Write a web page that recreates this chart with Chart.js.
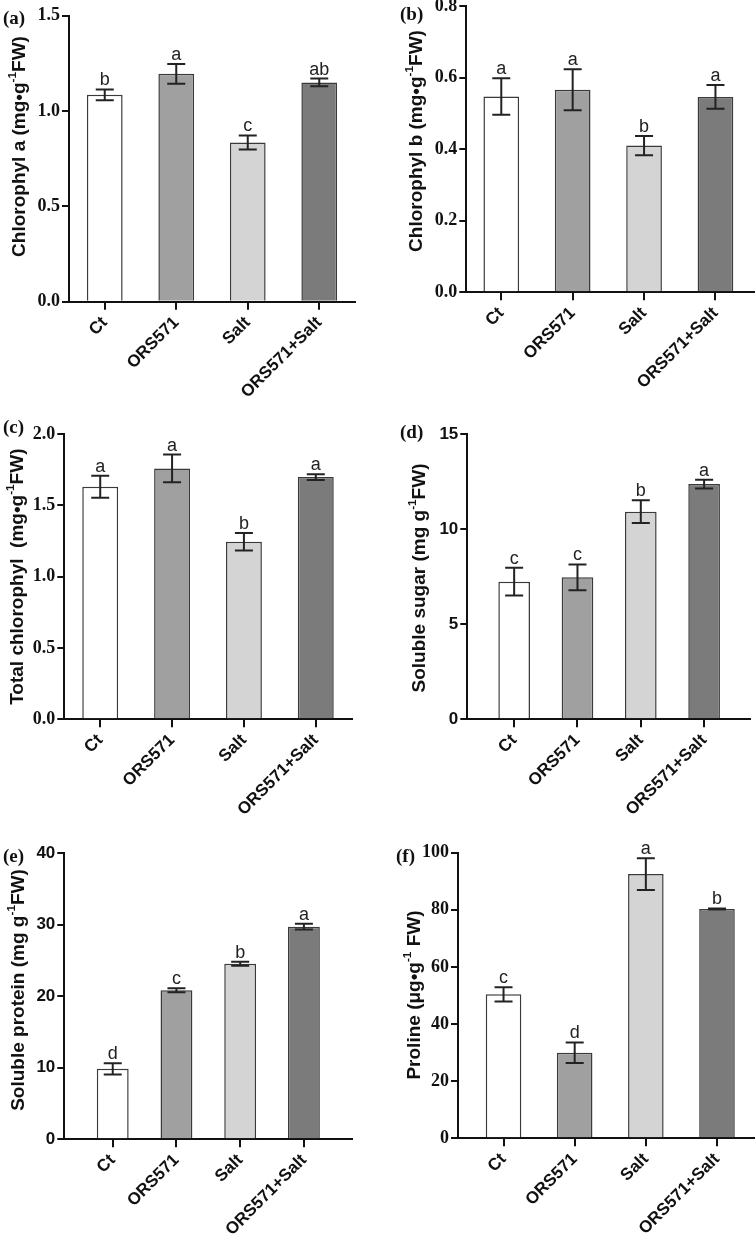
<!DOCTYPE html>
<html>
<head>
<meta charset="utf-8">
<script src="https://cdn.jsdelivr.net/npm/chart.js@4.4.0/dist/chart.umd.min.js"></script>
<style>
  html, body { margin: 0; padding: 0; background: #fff; }
  body { width: 755px; height: 1239px; position: relative; overflow: hidden; }
  canvas { position: absolute; }
  .tag { position: absolute; font: bold 19px "Liberation Serif", "Times New Roman", serif; line-height: 1; transform: translateY(-50%); color: #111; }
</style>
</head>
<body>
<script>
const groups = ['Ct', 'ORS571', 'Salt', 'ORS571+Salt'];
const barColors = ['#ffffff', '#a0a0a0', '#d4d4d4', '#7b7b7b'];

// (a) chlorophyll a
const chlA = [1.085, 1.195, 0.835, 1.15];
const chlAErr = [0.028, 0.052, 0.037, 0.02];
const chlALetters = ['b', 'a', 'c', 'ab'];
const chlATicks = [0, 0.5, 1.0, 1.5];

// (b) chlorophyll b
const chlB = [0.547, 0.566, 0.41, 0.546];
const chlBErr = [0.051, 0.057, 0.027, 0.033];
const chlBLetters = ['a', 'a', 'b', 'a'];
const chlBTicks = [0, 0.2, 0.4, 0.6, 0.8];

// (c) total chlorophyll
const totalChl = [1.63, 1.759, 1.245, 1.698];
const totalChlErr = [0.077, 0.097, 0.061, 0.02];
const totalChlLetters = ['a', 'a', 'b', 'a'];
const totalChlTicks = [0, 0.5, 1.0, 1.5, 2.0];

// (d) soluble sugar
const sugar = [7.24, 7.47, 10.93, 12.38];
const sugarErr = [0.73, 0.68, 0.6, 0.23];
const sugarLetters = ['c', 'c', 'b', 'a'];
const sugarTicks = [0, 5, 10, 15];

// (e) soluble protein
const protein = [9.85, 20.84, 24.56, 29.74];
const proteinErr = [0.77, 0.28, 0.28, 0.4];
const proteinLetters = ['d', 'c', 'b', 'a'];
const proteinTicks = [0, 10, 20, 30, 40];

// (f) proline
const proline = [50.4, 29.97, 92.5, 80.3];
const prolineErr = [2.5, 3.6, 5.6, 0.2];
const prolineLetters = ['c', 'd', 'a', 'b'];
const prolineTicks = [0, 20, 40, 60, 80, 100];

const SANS = '"Liberation Sans", Arial, sans-serif';
const SERIF = '"Liberation Serif", "Times New Roman", serif';

// page geometry: box = [left, top, width, height] of each canvas
const panels = [
  { tag: '(a)', values: chlA, errs: chlAErr, letters: chlALetters, ticks: chlATicks, digits: 1, tickFont: SERIF,
    title: ['Chlorophyl a (mg\u2022g', '-1', 'FW)'],
    box: [0, -20, 378, 430], axisX: 69, xEnd: 355, yTop: 15.7, yZero: 301.7, xMin: -0.5, xMax: 3.5,
    titleAt: [20, 146.5], tagAt: [3, 16.7] },
  { tag: '(b)', values: chlB, errs: chlBErr, letters: chlBLetters, ticks: chlBTicks, digits: 1, tickFont: SERIF,
    title: ['Chlorophyl b (mg\u2022g', '-1', 'FW)'],
    box: [378, -20, 377, 430], axisX: 466.3, xEnd: 754, yTop: 6, yZero: 292.3, xMin: -0.49, xMax: 3.54,
    titleAt: [417, 141], tagAt: [400, 13.3] },
  { tag: '(c)', values: totalChl, errs: totalChlErr, letters: totalChlLetters, ticks: totalChlTicks, digits: 1, tickFont: SERIF,
    title: ['Total chlorophyl  (mg\u2022g', '-1', 'FW)'],
    box: [0, 390, 378, 430], axisX: 64.3, xEnd: 351.7, yTop: 434, yZero: 719.3, xMin: -0.5, xMax: 3.5,
    titleAt: [17.5, 576.7], tagAt: [3, 425.5] },
  { tag: '(d)', values: sugar, errs: sugarErr, letters: sugarLetters, ticks: sugarTicks, digits: 0, tickFont: SANS,
    title: ['Soluble sugar (mg g', '-1', 'FW)'],
    box: [378, 390, 377, 430], axisX: 467.3, xEnd: 749.7, yTop: 434.3, yZero: 719.3, xMin: -0.74, xMax: 3.72,
    titleAt: [419.7, 578], tagAt: [400, 430.5] },
  { tag: '(e)', values: protein, errs: proteinErr, letters: proteinLetters, ticks: proteinTicks, digits: 0, tickFont: SANS,
    title: ['Soluble protein (mg g', '-1', 'FW)'],
    box: [0, 800, 378, 439], axisX: 64.3, xEnd: 351.7, yTop: 853.3, yZero: 1139.3, xMin: -0.76, xMax: 3.75,
    titleAt: [19, 990], tagAt: [3, 854.5] },
  { tag: '(f)', values: proline, errs: prolineErr, letters: prolineLetters, ticks: prolineTicks, digits: 0, tickFont: SERIF,
    title: ['Proline (\u03bcg\u2022g', '-1', ' FW)'],
    box: [378, 800, 377, 439], axisX: 458, xEnd: 754.7, yTop: 852.7, yZero: 1138.3, xMin: -0.64, xMax: 3.53,
    titleAt: [414.7, 995], tagAt: [396, 854.5] }
];

// error bars, significance letters and the y title with its superscript
function makeExtras(p, L, T) {
  return {
    id: 'extras',
    afterDatasetsDraw(chart) {
      const ctx = chart.ctx;
      const y = chart.scales.y;
      const meta = chart.getDatasetMeta(0);
      ctx.save();
      ctx.strokeStyle = '#222';
      ctx.fillStyle = '#222';
      ctx.lineWidth = 2;
      ctx.font = '18px ' + SANS;
      ctx.textAlign = 'center';
      ctx.textBaseline = 'alphabetic';
      meta.data.forEach((bar, i) => {
        const v = p.values[i], e = p.errs[i];
        const hi = y.getPixelForValue(v + e);
        const lo = y.getPixelForValue(v - e);
        ctx.beginPath();
        ctx.moveTo(bar.x, lo); ctx.lineTo(bar.x, hi);
        ctx.moveTo(bar.x - 9, hi); ctx.lineTo(bar.x + 9, hi);
        ctx.moveTo(bar.x - 9, lo); ctx.lineTo(bar.x + 9, lo);
        ctx.stroke();
        ctx.fillText(p.letters[i], bar.x, hi - 4);
      });

      const size = 19;
      const parts = [
        [p.title[0], size, 0],
        [p.title[1], size * 0.62, -size * 0.36],
        [p.title[2], size, 0]
      ];
      let total = 0;
      parts.forEach(pt => {
        ctx.font = 'bold ' + pt[1] + 'px ' + SANS;
        pt.push(ctx.measureText(pt[0]).width);
        total += pt[3];
      });
      ctx.translate(p.titleAt[0] - L, p.titleAt[1] - T);
      ctx.rotate(-Math.PI / 2);
      ctx.textAlign = 'left';
      ctx.textBaseline = 'middle';
      ctx.fillStyle = '#111';
      let x = -total / 2;
      parts.forEach(pt => {
        ctx.font = 'bold ' + pt[1] + 'px ' + SANS;
        ctx.fillText(pt[0], x, pt[2]);
        x += pt[3];
      });
      ctx.restore();
    }
  };
}

panels.forEach(p => {
  const [L, T, W, H] = p.box;
  const c = document.createElement('canvas');
  c.width = W; c.height = H;
  c.style.left = L + 'px'; c.style.top = T + 'px';
  c.style.width = W + 'px'; c.style.height = H + 'px';
  document.body.appendChild(c);

  const tag = document.createElement('div');
  tag.className = 'tag';
  tag.textContent = p.tag;
  tag.style.left = p.tagAt[0] + 'px';
  tag.style.top = p.tagAt[1] + 'px';
  document.body.appendChild(tag);

  new Chart(c, {
    type: 'bar',
    data: {
      datasets: [{
        data: p.values.map((v, i) => ({ x: i, y: v })),
        backgroundColor: barColors,
        borderColor: '#3a3a3a',
        borderWidth: 1.5,
        barPercentage: 0.5,
        categoryPercentage: 1
      }]
    },
    options: {
      responsive: false,
      animation: false,
      devicePixelRatio: 1,
      layout: { padding: { top: p.yTop - T, right: L + W - p.xEnd, left: 0, bottom: 0 } },
      plugins: { legend: { display: false }, tooltip: { enabled: false } },
      scales: {
        x: {
          type: 'linear', min: p.xMin, max: p.xMax, offset: false,
          afterBuildTicks: s => { s.ticks = groups.map((g, i) => ({ value: i })); },
          afterFit: s => { s.height = T + H - p.yZero; },
          ticks: {
            callback: v => groups[v], minRotation: 45, maxRotation: 45, autoSkip: false,
            padding: 3, color: '#111', font: { family: SANS, size: 17, weight: 'bold' }
          },
          grid: { offset: false, drawOnChartArea: false, tickLength: 8, lineWidth: 2, color: '#111' },
          border: { display: true, width: 2, color: '#111' }
        },
        y: {
          min: 0, max: p.ticks[p.ticks.length - 1],
          afterBuildTicks: s => { s.ticks = p.ticks.map(v => ({ value: v })); },
          afterFit: s => { s.width = p.axisX - L; },
          ticks: {
            callback: v => v.toFixed(p.digits), padding: 2, color: '#111',
            font: { family: p.tickFont, size: p.tickFont === SANS ? 17 : 18, weight: 'bold' }
          },
          grid: { drawOnChartArea: false, tickLength: 7, lineWidth: 2, color: '#111' },
          border: { display: true, width: 2, color: '#111' }
        }
      }
    },
    plugins: [makeExtras(p, L, T)]
  });
});
</script>
</body>
</html>
